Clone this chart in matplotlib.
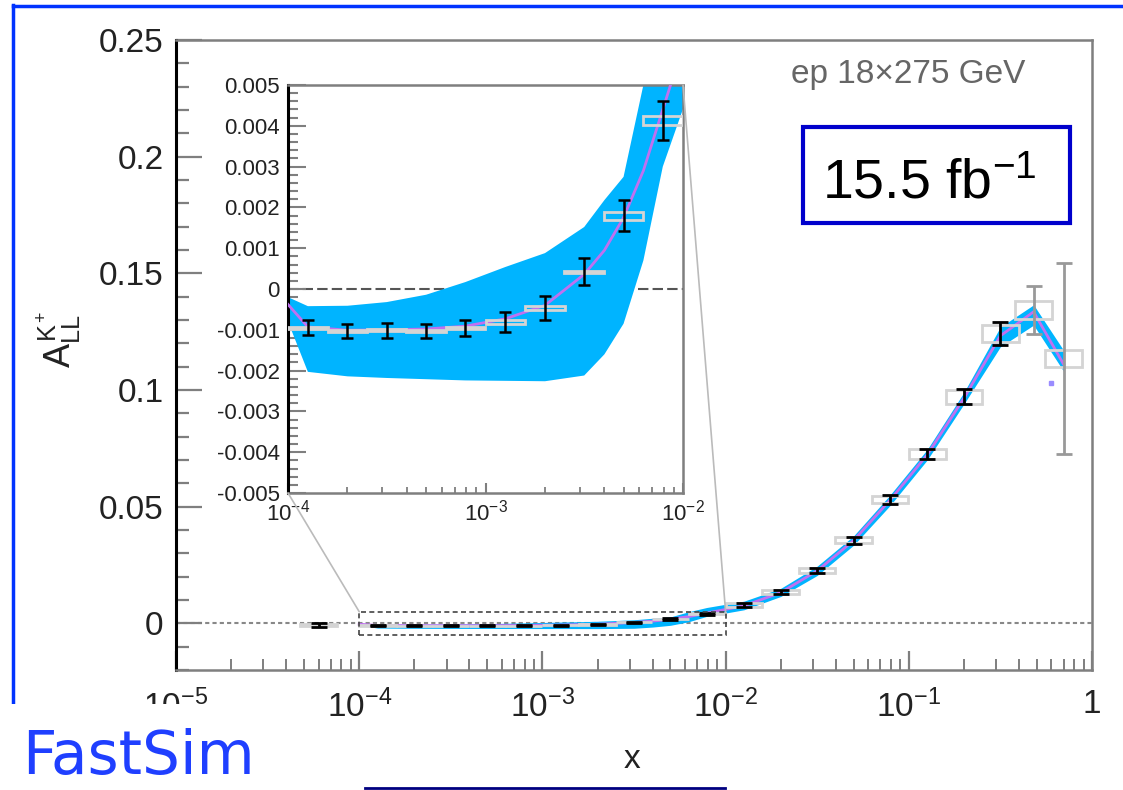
import math
import matplotlib
matplotlib.use('Agg')
import matplotlib.pyplot as plt
from matplotlib.patches import Rectangle, ConnectionPatch
from matplotlib.lines import Line2D
from matplotlib.ticker import FixedLocator, FuncFormatter, MultipleLocator, LogLocator, NullFormatter

plt.rcParams['font.family'] = ['Liberation Sans', 'DejaVu Sans']
plt.rcParams['mathtext.fontset'] = 'custom'
plt.rcParams['mathtext.rm'] = 'Liberation Sans'
plt.rcParams['mathtext.it'] = 'Liberation Sans'
plt.rcParams['mathtext.bf'] = 'Liberation Sans:bold'

# pseudo-data (bin centres in x, asymmetry, stat and syst errors)
x_bins = [6.0e-5, 1.26e-4, 2.0e-4, 3.16e-4, 5.0e-4, 7.9e-4, 1.26e-3, 2.0e-3, 3.16e-3,
          5.0e-3, 7.9e-3, 1.26e-2, 2.0e-2, 3.16e-2, 5.0e-2, 7.9e-2, 0.126, 0.2, 0.316,
          0.48, 0.70]
a_ll = [-0.0008, -0.00095, -0.00103, -0.00101, -0.00103, -0.00096, -0.00081, -0.00046,
        0.00042, 0.00179, 0.00413, 0.0077, 0.0134, 0.0227, 0.0356, 0.0530, 0.0725,
        0.0971, 0.1242, 0.1342, 0.1135]
stat_err = [0.0008, 0.00018, 0.00018, 0.00018, 0.00018, 0.0002, 0.00025, 0.00029,
            0.00033, 0.00038, 0.00049, 0.0008, 0.001, 0.0012, 0.0014, 0.0018, 0.0022,
            0.0032, 0.005, 0.0103, 0.041]
syst_err = [0.0005, 0.00003, 0.00003, 0.00003, 0.00003, 0.00003, 0.00004, 0.00005,
            0.00003, 0.00009, 0.00012, 0.0008, 0.0008, 0.001, 0.0012, 0.0015, 0.0022,
            0.003, 0.0038, 0.0038, 0.0036]

# theory curve and its uncertainty band
theory_x = [1.0e-4, 1.26e-4, 2.0e-4, 3.16e-4, 5.0e-4, 7.9e-4, 1.26e-3, 2.0e-3, 3.16e-3,
            4.0e-3, 5.0e-3, 6.3e-3, 7.9e-3, 1.26e-2, 2.0e-2, 3.16e-2, 5.0e-2, 7.9e-2,
            0.126, 0.2, 0.316, 0.48, 0.70]
theory_mid = [-0.00038, -0.00093, -0.00101, -0.0010, -0.00098, -0.00091, -0.00073,
              -0.0004, 0.00036, 0.00095, 0.00175, 0.0029, 0.0044, 0.0075, 0.0132,
              0.0225, 0.0355, 0.0528, 0.0722, 0.0965, 0.1232, 0.1335, 0.111]
theory_lo = [-0.0008, -0.00203, -0.00214, -0.00218, -0.00221, -0.00224, -0.00225,
             -0.00226, -0.00212, -0.0016, -0.00085, 0.0007, 0.0030, 0.0058, 0.0115,
             0.0205, 0.0335, 0.0505, 0.0700, 0.0940, 0.1185, 0.1278, 0.108]
theory_hi = [-0.0002, -0.00042, -0.00041, -0.00032, -0.00014, 0.00017, 0.00054,
             0.00088, 0.00152, 0.00218, 0.00275, 0.0050, 0.0068, 0.0095, 0.0150,
             0.0245, 0.0375, 0.0550, 0.0745, 0.0990, 0.1270, 0.1365, 0.117]

stray_x = [0.6]
stray_y = [0.103]

BAND = '#00b4ff'
CURVE = '#c070f0'
BOXC = '#d4d4d4'
GRAY = '#7f7f7f'


def draw_content(ax, capsize, elw):
    ax.fill_between(theory_x, theory_lo, theory_hi, color=BAND, lw=0, zorder=2)
    ax.plot(theory_x, theory_mid, color=CURVE, lw=2, zorder=3)
    for xi, yi, si in zip(x_bins, a_ll, syst_err):
        lo, hi = xi / 10**0.1, xi * 10**0.1
        ax.add_patch(Rectangle((lo, yi - si), hi - lo, 2 * si, fill=False,
                               ec=BOXC, lw=2, zorder=4))
    for i, (xi, yi, ei) in enumerate(zip(x_bins, a_ll, stat_err)):
        c = '#999999' if i >= len(x_bins) - 2 else 'black'
        ax.errorbar([xi], [yi], yerr=[ei], fmt='none', ecolor=c, elinewidth=elw,
                    capsize=capsize, capthick=elw, zorder=5)


def frame(ax):
    ax.spines['left'].set_color('black')
    ax.spines['left'].set_linewidth(2.2)
    for s in ['top', 'right', 'bottom']:
        ax.spines[s].set_color(GRAY)
        ax.spines[s].set_linewidth(1.8)


def pow10(v, p):
    if abs(v - 1) < 1e-9:
        return '1'
    return r'$10^{%d}$' % round(math.log10(v))


fig = plt.figure(figsize=(11.23, 7.9), dpi=100)

# main plot
ax = fig.add_axes([0.1567, 0.1519, 0.9724 - 0.1567, 0.9494 - 0.1519])
ax.set_xscale('log')
ax.set_xlim(1e-5, 1)
ax.set_ylim(-0.02, 0.25)
ax.axhline(0, color='#888888', lw=1.5, ls=(0, (2, 1.5)), zorder=1)
draw_content(ax, 6, 2)
ax.plot(stray_x, stray_y, 's', color='#9a8cff', ms=3, zorder=6)
ax.add_patch(Rectangle((1e-4, -0.005), 1e-2 - 1e-4, 0.01, fill=False, ec='#444444',
                       lw=1.2, ls=(0, (3, 2)), zorder=6))
frame(ax)
ax.yaxis.set_major_locator(FixedLocator([0, 0.05, 0.1, 0.15, 0.2, 0.25]))
ax.yaxis.set_minor_locator(MultipleLocator(0.01))
ax.yaxis.set_major_formatter(FuncFormatter(lambda v, p: '%g' % round(v, 3)))
ax.xaxis.set_major_locator(LogLocator(base=10, numticks=10))
ax.xaxis.set_minor_locator(LogLocator(base=10, subs=[2, 3, 4, 5, 6, 7, 8, 9], numticks=20))
ax.xaxis.set_minor_formatter(NullFormatter())
ax.xaxis.set_major_formatter(FuncFormatter(pow10))
ax.tick_params(axis='y', which='major', direction='in', length=19, width=1.6, color=GRAY,
               labelsize=24, labelcolor='#222222', pad=9, left=True, right=False)
ax.tick_params(axis='y', which='minor', direction='in', length=9, width=1.6, color=GRAY,
               left=True, right=False)
ax.tick_params(axis='x', which='major', direction='in', length=14, width=1.6, color=GRAY,
               labelsize=24, labelcolor='#222222', pad=14, bottom=True, top=False)
ax.tick_params(axis='x', which='minor', direction='in', length=8, width=1.4, color=GRAY,
               bottom=True, top=False)
ax.set_xlabel('x', fontsize=24, color='#222222')
ax.xaxis.set_label_coords(0.498, -0.118)
ax.set_ylabel(r'$A_{LL}^{K^{+}}$', fontsize=26, color='#222222')
ax.yaxis.set_label_coords(-0.1, 0.525)

# zoomed inset
axi = fig.add_axes([0.2565, 0.3759, 0.6082 - 0.2565, 0.8924 - 0.3759])
axi.set_xscale('log')
axi.set_xlim(1e-4, 1e-2)
axi.set_ylim(-0.005, 0.005)
axi.axhline(0, color='#555555', lw=1.5, ls=(0, (5, 2)), zorder=1)
draw_content(axi, 4.5, 1.8)
frame(axi)
axi.yaxis.set_major_locator(MultipleLocator(0.001))
axi.yaxis.set_minor_locator(MultipleLocator(0.0002))
axi.yaxis.set_major_formatter(FuncFormatter(lambda v, p: '%g' % round(v, 4)))
axi.xaxis.set_major_locator(LogLocator(base=10, numticks=5))
axi.xaxis.set_minor_locator(LogLocator(base=10, subs=[2, 3, 4, 5, 6, 7, 8, 9], numticks=10))
axi.xaxis.set_minor_formatter(NullFormatter())
axi.xaxis.set_major_formatter(FuncFormatter(pow10))
axi.tick_params(axis='y', which='major', direction='in', length=13, width=1.5, color=GRAY,
                labelsize=16, labelcolor='#222222', pad=6, left=True, right=False)
axi.tick_params(axis='y', which='minor', direction='in', length=7, width=1.5, color=GRAY,
                left=True, right=False)
axi.tick_params(axis='x', which='major', direction='in', length=7, width=1.5, color=GRAY,
                labelsize=16, labelcolor='#222222', pad=5, bottom=True, top=False)
axi.tick_params(axis='x', which='minor', direction='in', length=4, width=1.3, color=GRAY,
                bottom=True, top=False)

# connector lines from inset to zoomed region
for pa, pb in [((0, 0), (1e-4, 0.005)), ((1, 1), (1e-2, 0.005))]:
    con = ConnectionPatch(xyA=pa, coordsA=axi.transAxes, xyB=pb, coordsB=ax.transData,
                          color='#bbbbbb', lw=1.2)
    fig.add_artist(con)

# annotations
fig.text(908 / 1123, 1 - 75 / 790, 'ep 18\u00d7275 GeV', color='#666666', fontsize=24,
         ha='center', va='center')
fig.add_artist(Rectangle((803 / 1123, 1 - 223 / 790), 267 / 1123, 96 / 790,
                         transform=fig.transFigure, fill=False, ec='#0000cc', lw=3))
fig.text(822 / 1123, 1 - 198 / 790, r'15.5 fb$^{-1}$', color='black', fontsize=40,
         ha='left', va='baseline')

# slide decorations
fig.add_artist(Line2D([13 / 1123, 13 / 1123], [1 - 705 / 790, 1 - 5 / 790],
                      transform=fig.transFigure, color='#0033ff', lw=2.5))
fig.add_artist(Line2D([13 / 1123, 1], [1 - 6 / 790, 1 - 6 / 790],
                      transform=fig.transFigure, color='#0033ff', lw=2.5))
fig.add_artist(Rectangle((0, 0), 0.285, 1 - 704 / 790, transform=fig.transFigure,
                         fc='white', ec='none', zorder=10))
fig.text(22 / 1123, 0.004, 'FastSim', color='#1f3fff', fontsize=43,
         family='DejaVu Sans', ha='left', va='bottom', zorder=11)
fig.add_artist(Line2D([365 / 1123, 725 / 1123], [1 - 788 / 790, 1 - 788 / 790],
                      transform=fig.transFigure, color='#000080', lw=2, zorder=11))

fig.savefig('out.png', dpi=100)
